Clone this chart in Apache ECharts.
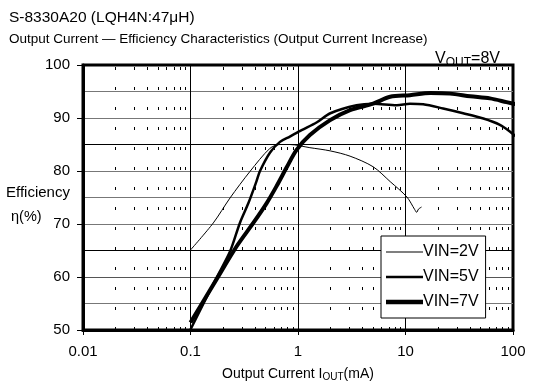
<!DOCTYPE html>
<html><head><meta charset="utf-8">
<script src="https://cdn.jsdelivr.net/npm/echarts@6/dist/echarts.min.js"></script>
<style>html,body{margin:0;padding:0;background:#fff}#c{width:533px;height:387px}</style>
</head><body><div id="c"></div>
<script>
// Output current (mA) and efficiency (%)
const vin2X = [0.1, 0.163, 0.233, 0.357, 0.55, 0.68, 0.84, 1.29, 1.99, 3.05, 5.0, 7.2, 10.3, 12.2, 12.7, 13.2, 14.1];
const vin2Y = [65.1, 70.2, 74.9, 79.9, 84.3, 85.0, 85.0, 84.4, 83.8, 82.8, 80.8, 78.0, 75.1, 72.7, 72.2, 72.8, 73.2];
const vin5X = [0.1, 0.174, 0.233, 0.288, 0.345, 0.41, 0.443, 0.55, 0.68, 0.84, 1.08, 1.5, 2.0, 3.5, 5.0, 8.3, 11.0, 14.6, 22.4, 34.4, 53, 75.6, 94, 117];
const vin5Y = [50.1, 59.8, 64.8, 70.2, 73.9, 78.0, 80.0, 83.5, 85.5, 86.5, 87.7, 89.2, 90.9, 92.4, 92.7, 92.4, 92.7, 92.6, 91.8, 90.9, 89.9, 88.7, 87.4, 85.8];
const vin7X = [0.1, 0.174, 0.269, 0.384, 0.51, 0.63, 0.79, 0.97, 1.29, 1.99, 3.05, 5.0, 7.2, 11, 17, 26, 40, 61, 87, 117];
const vin7Y = [51.4, 59.5, 65.8, 70.2, 73.9, 77.1, 80.8, 84.0, 86.8, 89.6, 91.5, 92.7, 94.0, 94.3, 94.7, 94.6, 94.1, 93.7, 93.0, 92.4];
const seriesNames = ['VIN=2V', 'VIN=5V', 'VIN=7V'];
const xTickLabels = ['0.01', '0.1', '1', '10', '100'];
const yTickLabels = ['50', '60', '70', '80', '90', '100'];
// minor log positions 2..9 in each decade (axis decoration)
const minorX = [];
[0.01, 0.1, 1, 10].forEach(d => { for (let k = 2; k <= 9; k++) minorX.push(+(d * k).toPrecision(3)); });

const F = 'Liberation Sans, Arial, sans-serif';
const pair = (xs, ys) => xs.map((x, i) => [x, ys[i]]);
const lineIcon = h => 'path://M0 0 L0 0 M0 ' + (7 - h / 2) + ' H37 V' + (7 + h / 2) + ' H0 Z M37 14 L37 14';
const chart = echarts.init(document.getElementById('c'));
const gridColors = ['#000', '#777', '#555', '#000', '#777', '#777', '#777', '#000', '#777', '#777', '#000'];
chart.setOption({
  animation: false,
  textStyle: { fontFamily: F },
  title: [
    { text: 'S-8330A20 (LQH4N:47μH)', left: 4, top: 5, textStyle: { fontFamily: F, fontSize: 15.5, fontWeight: 'normal', color: '#000' } },
    { text: 'Output Current — Efficiency Characteristics (Output Current Increase)', left: 4, top: 27, textStyle: { fontFamily: F, fontSize: 13.5, fontWeight: 'normal', color: '#000' } },
    { text: '{v|V}{s|OUT}{v|=8V}', right: 28, top: 44, textStyle: { fontWeight: 'normal', rich: { v: { fontFamily: F, fontSize: 16, fontWeight: 'normal', color: '#000' }, s: { fontFamily: F, fontSize: 12, fontWeight: 'normal', color: '#000', padding: [8, 0, 0, 0] } } } },
    { text: 'Efficiency', left: 1, top: 180, textStyle: { fontFamily: F, fontSize: 15, fontWeight: 'normal', color: '#000' } },
    { text: 'η(%)', left: 6, top: 204, textStyle: { fontFamily: F, fontSize: 14.5, fontWeight: 'normal', color: '#000' } }
  ],
  grid: { left: 83, right: 20, top: 65, bottom: 56, show: true, borderColor: '#000', borderWidth: 3, backgroundColor: 'transparent' },
  legend: {
    z: 20,
    data: [
      { name: seriesNames[0], icon: lineIcon(1.2) },
      { name: seriesNames[1], icon: lineIcon(2.5) },
      { name: seriesNames[2], icon: lineIcon(4.5) }
    ],
    orient: 'vertical', left: 381, top: 236,
    backgroundColor: '#fff', borderColor: '#000', borderWidth: 1,
    padding: [8, 7, 8, 5], itemGap: 9, itemWidth: 37, itemHeight: 14,
    itemStyle: { color: '#000', borderWidth: 0 },
    textStyle: { fontFamily: F, fontSize: 16, color: '#000', padding: [0, 0, 0, -5] }
  },
  xAxis: {
    type: 'log', logBase: 10, min: 0.01, max: 100,
    axisLine: { show: true, lineStyle: { color: '#000', width: 3 } },
    axisTick: { show: true, length: 5, inside: false, lineStyle: { color: '#000', width: 1 } },
    axisLabel: { fontFamily: F, fontSize: 15, color: '#000', margin: 14, formatter: v => { const s = String(+v.toPrecision(3)); return xTickLabels.includes(s) ? s : ''; } },
    splitLine: { show: true, lineStyle: { color: '#000', width: 1 } },
    name: '{a|Output Current I}{s|OUT}{a|(mA)}', nameLocation: 'middle', nameGap: 36,
    nameTextStyle: { rich: { a: { fontFamily: F, fontSize: 14, color: '#000' }, s: { fontFamily: F, fontSize: 10, color: '#000', padding: [6, 0, 0, 0] } } }
  },
  yAxis: [
    { type: 'value', min: 50, max: 100, interval: 10,
      axisLine: { show: true, lineStyle: { color: '#000', width: 3 } },
      axisTick: { show: true, length: 6, lineStyle: { color: '#000' } },
      axisLabel: { fontFamily: F, fontSize: 15, color: '#000', margin: 13, formatter: v => yTickLabels.includes(String(v)) ? String(v) : '' },
      splitLine: { show: false } },
    { type: 'value', min: 50, max: 100, interval: 5, position: 'left',
      axisLine: { show: false }, axisTick: { show: false }, axisLabel: { show: false },
      splitLine: { show: true, lineStyle: { color: gridColors, width: 1 } } }
  ],
  series: [
    { name: seriesNames[0], type: 'line', data: pair(vin2X, vin2Y), symbol: 'none', smooth: 0.3, clip: false, z: 5,
      lineStyle: { color: '#000', width: 1 }, itemStyle: { color: '#000' },
      markLine: { silent: true, symbol: 'none', label: { show: false }, animation: false, z: 1,
        lineStyle: { color: '#000', width: 1, type: [3, 17] },
        data: minorX.map(v => ({ xAxis: v })) } },
    { name: seriesNames[1], type: 'line', data: pair(vin5X, vin5Y), symbol: 'none', smooth: 0.3, clip: false, z: 5,
      lineStyle: { color: '#000', width: 2.5 }, itemStyle: { color: '#000' } },
    { name: seriesNames[2], type: 'line', data: pair(vin7X, vin7Y), symbol: 'none', smooth: 0.3, clip: false, z: 5,
      lineStyle: { color: '#000', width: 4 }, itemStyle: { color: '#000' } }
  ]
});
</script></body></html>
